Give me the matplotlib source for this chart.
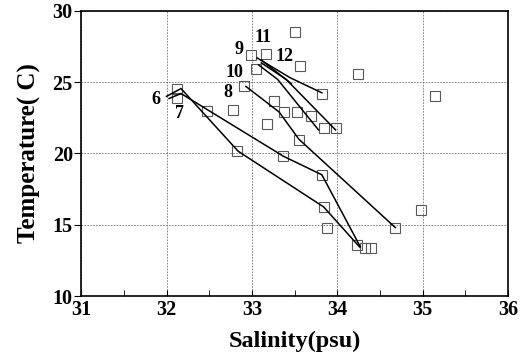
import numpy as np
import matplotlib
matplotlib.use("Agg")
import matplotlib.pyplot as plt

## data ~~~~~~~~~~~~~~~~~~~~~~~~~~~~~~~~~~~~~~~~~~~~~~~~~~~~~~~~~~~~~~~~~~~~~~~~~~~~~~~~~~~~~~~~~

# open squares: all samples
sq_sal = [33.51, 33.56, 34.24, 35.14, 33.82, 32.99, 33.16, 33.05, 32.91,
          32.12, 32.12, 32.47, 32.78, 33.26, 33.38, 33.18, 33.53, 33.69,
          33.84, 33.98, 33.55, 32.83, 33.37, 33.82, 33.84, 33.88, 34.68,
          34.98, 34.23, 34.33, 34.40]
sq_temp = [28.5, 26.15, 25.6, 24.0, 24.15, 26.9, 27.0, 25.9, 24.75,
           24.55, 23.9, 22.95, 23.05, 23.7, 22.9, 22.05, 22.9, 22.6,
           21.8, 21.8, 20.95, 20.15, 19.8, 18.5, 16.25, 14.8, 14.8,
           16.0, 13.55, 13.4, 13.4]

# station profiles
st6_sal = [32.00, 32.17, 32.84, 33.84, 34.26]
st6_temp = [24.0, 24.55, 20.15, 16.25, 13.45]
st7_sal = [32.03, 32.17, 33.37, 33.82, 34.27]
st7_temp = [23.85, 24.2, 19.8, 18.5, 13.45]
st8_sal = [32.93, 33.32, 33.55, 34.68]
st8_temp = [24.7, 22.9, 21.0, 14.8]
st9_sal = [33.06, 33.45, 33.82]
st9_temp = [26.7, 25.3, 24.25]
st10_sal = [33.08, 33.30, 33.78]
st10_temp = [26.2, 25.2, 21.65]
st11_sal = [33.11, 33.40, 33.98]
st11_temp = [26.35, 25.2, 21.65]
st12_sal = [33.11, 33.46]
st12_temp = [26.55, 24.9]

labels = ["6", "7", "8", "9", "10", "11", "12"]
label_sal = [31.88, 32.15, 32.72, 32.85, 32.80, 33.13, 33.38]
label_temp = [23.8, 22.8, 24.25, 27.3, 25.7, 28.1, 26.8]

## plot ~~~~~~~~~~~~~~~~~~~~~~~~~~~~~~~~~~~~~~~~~~~~~~~~~~~~~~~~~~~~~~~~~~~~~~~~~~~~~~~~~~~~~~~~~~

plt.rcParams['font.family'] = ['Liberation Serif', 'DejaVu Serif']
fig = plt.figure(figsize=(5.2, 3.61), dpi=100)
ax = fig.add_axes([0.156, 0.18, 0.821, 0.79])

ax.grid(True, color='0.45', linestyle=(0, (2, 1.5)), linewidth=0.6)
ax.set_axisbelow(True)

ax.plot(sq_sal, sq_temp, 's', markersize=7, markerfacecolor='none',
        markeredgecolor='0.35', markeredgewidth=0.8, zorder=2)

for s, t in [(st6_sal, st6_temp), (st7_sal, st7_temp), (st8_sal, st8_temp),
             (st9_sal, st9_temp), (st10_sal, st10_temp), (st11_sal, st11_temp),
             (st12_sal, st12_temp)]:
    ax.plot(s, t, color='black', linewidth=1.1, zorder=3)

for lab, s, t in zip(labels, label_sal, label_temp):
    ax.text(s, t, lab, fontsize=13, fontweight='bold', ha='center', va='center')

ax.set_xlim(31, 36)
ax.set_ylim(10, 30)
ax.set_xticks(np.arange(31, 37, 1))
ax.set_xticks(np.arange(31.5, 36, 0.5), minor=True)
ax.set_yticks(np.arange(10, 31, 5))
ax.tick_params(axis='x', direction='in', length=4, labelsize=14.5, pad=3)
ax.tick_params(axis='x', which='minor', direction='in', length=4)
ax.tick_params(axis='y', direction='out', length=5, labelsize=14.5, pad=1)
for lab in ax.get_xticklabels() + ax.get_yticklabels():
    lab.set_fontweight('bold')
for sp in ax.spines.values():
    sp.set_linewidth(1.2)

ax.set_xlabel('Salinity(psu)', fontsize=17.5, fontweight='bold', labelpad=8)
ax.set_ylabel('Temperature( C)', fontsize=18, fontweight='bold', labelpad=8)

fig.savefig('out.png', dpi=100)
